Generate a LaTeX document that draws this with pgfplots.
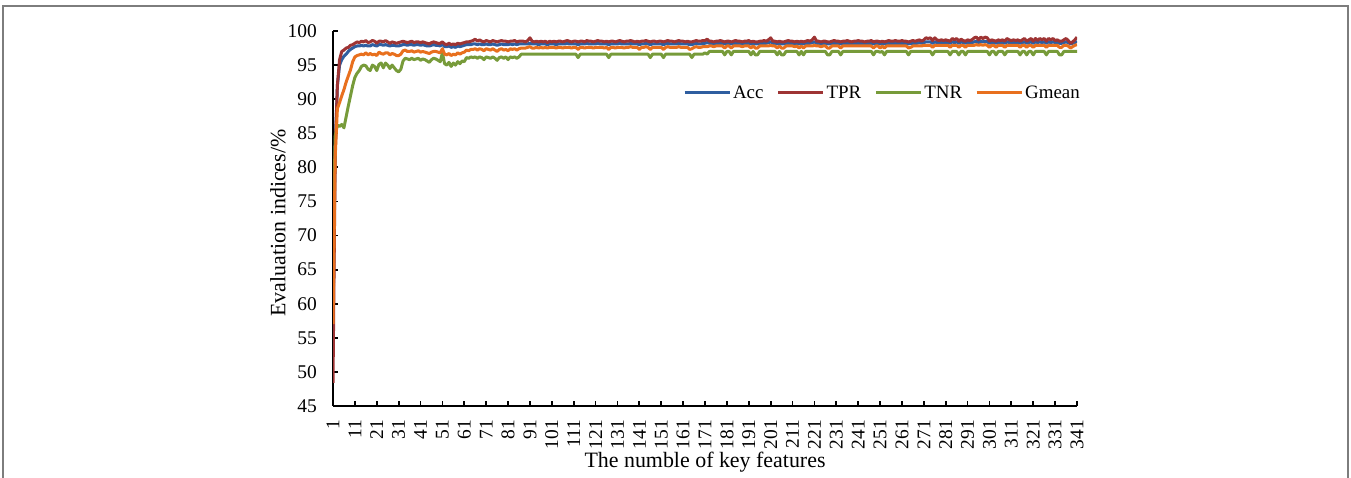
\documentclass[border=0pt]{standalone}
\usepackage{pgfplots}
\usepackage{pgfplotstable}
\pgfplotsset{compat=1.18}
\usepackage{fontspec}
\setmainfont{Liberation Serif}
\definecolor{cAcc}{RGB}{47,94,160}
\definecolor{cTPR}{RGB}{158,52,52}
\definecolor{cTNR}{RGB}{119,155,58}
\definecolor{cGm}{RGB}{232,112,30}
\definecolor{frame}{RGB}{125,125,125}
\pgfplotstableread{
x acc tpr tnr gm
1 57.2 48.4 68.0 57.0
2 83.0 82.0 84.6 81.5
3 92.0 92.0 86.2 88.6
4 95.0 95.8 86.0 89.5
5 95.8 97.0 86.3 90.5
6 96.3 97.2 85.8 91.4
7 96.6 97.5 87.4 92.5
8 97.0 97.6 89.0 93.4
9 97.3 97.9 90.5 94.3
10 97.5 98.0 92.0 95.5
11 97.7 98.2 93.2 96.2
12 97.8 98.4 93.8 96.4
13 97.8 98.3 94.2 96.5
14 97.9 98.5 94.8 96.6
15 97.8 98.4 95.0 96.5
16 97.9 98.6 94.9 96.8
17 97.8 98.3 94.4 96.5
18 97.8 98.4 94.2 96.7
19 98.0 98.6 95.0 96.5
20 97.9 98.5 94.8 96.6
21 97.8 98.2 94.2 96.4
22 98.0 98.5 95.1 96.9
23 98.0 98.5 95.3 96.7
24 97.9 98.4 94.6 96.6
25 98.0 98.6 95.3 96.8
26 97.9 98.4 95.0 96.8
27 97.8 98.2 94.5 96.5
28 97.9 98.4 95.0 96.7
29 97.9 98.3 94.6 96.6
30 97.8 98.2 94.2 96.4
31 97.8 98.3 94.0 96.4
32 97.9 98.4 94.4 96.6
33 98.0 98.5 95.6 97.1
34 98.0 98.4 96.0 97.2
35 97.9 98.3 95.9 97.0
36 98.0 98.4 95.8 97.0
37 98.0 98.5 96.0 97.1
38 97.9 98.3 95.8 96.9
39 98.0 98.4 95.9 97.0
40 98.0 98.4 96.0 97.1
41 97.9 98.3 95.7 96.9
42 98.0 98.4 95.9 97.0
43 97.9 98.3 95.8 96.9
44 97.8 98.2 95.6 96.8
45 97.8 98.1 95.4 96.7
46 97.9 98.3 95.8 96.9
47 98.0 98.4 96.0 97.0
48 97.9 98.3 95.9 97.0
49 97.9 98.2 95.7 96.9
50 97.8 98.2 95.5 96.8
51 98.1 98.4 96.8 97.4
52 97.7 98.1 95.2 96.6
53 97.7 98.0 95.0 96.5
54 97.8 98.2 95.4 96.7
55 97.6 98.0 94.8 96.4
56 97.7 98.1 95.3 96.6
57 97.6 98.0 95.0 96.5
58 97.8 98.2 95.5 96.8
59 97.7 98.1 95.2 96.6
60 97.8 98.2 95.6 96.8
61 97.9 98.3 95.5 96.9
62 98.0 98.4 96.1 97.2
63 98.0 98.4 96.0 97.1
64 98.0 98.5 96.2 97.3
65 98.1 98.6 96.1 97.3
66 98.1 98.8 96.2 97.4
67 98.0 98.5 96.0 97.2
68 98.1 98.7 96.2 97.4
69 98.0 98.5 96.1 97.3
70 98.0 98.4 95.8 97.1
71 98.1 98.6 96.2 97.4
72 98.0 98.5 96.1 97.3
73 98.0 98.4 96.0 97.2
74 98.1 98.6 96.2 97.4
75 98.0 98.5 96.0 97.2
76 97.9 98.4 95.7 97.0
77 98.0 98.5 96.1 97.3
78 98.1 98.6 96.2 97.4
79 98.0 98.5 96.0 97.2
80 98.0 98.5 96.2 97.3
81 98.0 98.4 95.8 97.1
82 98.1 98.5 96.2 97.4
83 98.0 98.5 96.1 97.3
84 98.1 98.6 96.2 97.4
85 98.0 98.4 96.0 97.2
86 98.1 98.5 96.2 97.4
87 98.1 98.5 96.6 97.5
88 98.1 98.5 96.6 97.5
89 98.1 98.4 96.6 97.5
90 98.1 98.6 96.6 97.6
91 98.2 99.0 96.6 97.7
92 98.1 98.5 96.6 97.5
93 98.1 98.4 96.6 97.5
94 98.1 98.5 96.6 97.6
95 98.0 98.4 96.6 97.5
96 98.1 98.5 96.6 97.6
97 98.1 98.4 96.6 97.5
98 98.1 98.5 96.6 97.6
99 98.0 98.3 96.6 97.5
100 98.1 98.5 96.6 97.6
101 98.1 98.4 96.6 97.6
102 98.1 98.5 96.6 97.6
103 98.0 98.4 96.6 97.5
104 98.1 98.5 96.6 97.6
105 98.1 98.5 96.6 97.6
106 98.1 98.4 96.6 97.5
107 98.1 98.5 96.6 97.6
108 98.2 98.6 96.6 97.6
109 98.1 98.5 96.6 97.6
110 98.1 98.4 96.6 97.5
111 98.1 98.5 96.6 97.6
112 98.1 98.5 96.6 97.6
113 98.0 98.4 96.1 97.3
114 98.1 98.5 96.6 97.6
115 98.1 98.5 96.6 97.6
116 98.1 98.4 96.6 97.5
117 98.2 98.6 96.6 97.6
118 98.1 98.5 96.6 97.6
119 98.1 98.5 96.6 97.6
120 98.1 98.4 96.6 97.5
121 98.1 98.5 96.6 97.6
122 98.2 98.6 96.6 97.6
123 98.1 98.5 96.6 97.6
124 98.1 98.5 96.6 97.6
125 98.1 98.4 96.6 97.5
126 98.1 98.5 96.6 97.6
127 98.0 98.4 96.1 97.3
128 98.1 98.5 96.6 97.6
129 98.1 98.5 96.6 97.6
130 98.1 98.4 96.6 97.5
131 98.1 98.5 96.6 97.6
132 98.2 98.6 96.6 97.6
133 98.1 98.5 96.6 97.6
134 98.1 98.4 96.6 97.5
135 98.1 98.5 96.6 97.6
136 98.1 98.5 96.6 97.6
137 98.2 98.6 96.6 97.7
138 98.1 98.5 96.6 97.6
139 98.1 98.4 96.6 97.6
140 98.1 98.5 96.6 97.6
141 98.0 98.4 96.6 97.3
142 98.1 98.5 96.6 97.6
143 98.1 98.5 96.6 97.6
144 98.2 98.6 96.6 97.7
145 98.1 98.5 96.6 97.6
146 98.0 98.4 96.1 97.3
147 98.1 98.5 96.6 97.6
148 98.1 98.5 96.6 97.6
149 98.1 98.4 96.6 97.6
150 98.1 98.5 96.6 97.6
151 98.1 98.5 96.6 97.6
152 98.0 98.4 96.1 97.3
153 98.1 98.5 96.6 97.6
154 98.2 98.6 96.6 97.7
155 98.1 98.5 96.6 97.6
156 98.1 98.5 96.6 97.6
157 98.1 98.4 96.6 97.6
158 98.1 98.5 96.6 97.6
159 98.2 98.6 96.6 97.7
160 98.1 98.5 96.6 97.6
161 98.1 98.5 96.6 97.6
162 98.1 98.4 96.6 97.6
163 98.1 98.5 96.6 97.6
164 98.0 98.4 96.6 97.3
165 98.0 98.4 96.1 97.4
166 98.1 98.5 96.6 97.6
167 98.2 98.6 96.6 97.7
168 98.1 98.5 96.6 97.6
169 98.1 98.5 96.6 97.6
170 98.2 98.6 96.6 97.7
171 98.2 98.6 96.8 97.7
172 98.3 98.8 96.6 97.7
173 98.2 98.5 97.0 97.8
174 98.2 98.5 97.0 97.8
175 98.2 98.4 97.0 97.7
176 98.2 98.5 97.0 97.8
177 98.2 98.5 97.0 97.8
178 98.2 98.6 97.0 97.8
179 98.2 98.5 97.0 97.8
180 98.1 98.4 96.5 97.5
181 98.2 98.5 97.0 97.8
182 98.2 98.5 97.0 97.8
183 98.1 98.4 96.5 97.5
184 98.2 98.5 97.0 97.8
185 98.2 98.6 97.0 97.8
186 98.2 98.5 97.0 97.8
187 98.2 98.5 97.0 97.8
188 98.2 98.4 97.0 97.7
189 98.2 98.5 97.0 97.8
190 98.2 98.5 97.0 97.8
191 98.2 98.6 97.0 97.8
192 98.1 98.4 96.5 97.5
193 98.2 98.5 97.0 97.8
194 98.1 98.4 96.5 97.5
195 98.1 98.4 96.5 97.5
196 98.2 98.5 97.0 97.8
197 98.2 98.5 97.0 97.8
198 98.2 98.6 97.0 97.8
199 98.2 98.5 97.0 97.8
200 98.3 98.7 97.0 97.8
201 98.4 99.0 97.0 97.9
202 98.2 98.5 97.0 97.8
203 98.2 98.5 97.0 97.8
204 98.1 98.4 96.5 97.5
205 98.2 98.5 97.0 97.8
206 98.1 98.4 96.5 97.5
207 98.1 98.4 96.5 97.5
208 98.2 98.5 97.0 97.8
209 98.2 98.6 97.0 97.8
210 98.2 98.5 97.0 97.8
211 98.2 98.5 97.0 97.8
212 98.2 98.4 97.0 97.7
213 98.2 98.5 97.0 97.8
214 98.1 98.4 96.5 97.5
215 98.2 98.5 97.0 97.8
216 98.1 98.4 96.5 97.5
217 98.2 98.5 97.0 97.8
218 98.2 98.6 97.0 97.8
219 98.2 98.5 97.0 97.8
220 98.3 98.7 97.0 97.8
221 98.4 99.1 97.0 97.9
222 98.2 98.5 97.0 97.8
223 98.2 98.5 97.0 97.8
224 98.2 98.4 97.0 97.7
225 98.2 98.5 97.0 97.8
226 98.2 98.5 97.0 97.8
227 98.1 98.4 96.5 97.5
228 98.1 98.4 96.5 97.5
229 98.2 98.5 97.0 97.8
230 98.2 98.6 97.0 97.8
231 98.2 98.5 97.0 97.8
232 98.2 98.5 97.0 97.8
233 98.1 98.4 96.5 97.5
234 98.2 98.5 97.0 97.8
235 98.2 98.5 97.0 97.8
236 98.2 98.6 97.0 97.8
237 98.2 98.5 97.0 97.8
238 98.2 98.4 97.0 97.8
239 98.2 98.5 97.0 97.8
240 98.2 98.5 97.0 97.8
241 98.2 98.6 97.0 97.8
242 98.2 98.5 97.0 97.8
243 98.2 98.5 97.0 97.8
244 98.2 98.4 97.0 97.8
245 98.2 98.5 97.0 97.8
246 98.2 98.5 97.0 97.8
247 98.2 98.6 97.0 97.8
248 98.1 98.4 96.5 97.5
249 98.2 98.5 97.0 97.8
250 98.2 98.5 97.0 97.8
251 98.1 98.4 96.9 97.5
252 98.2 98.5 97.0 97.8
253 98.1 98.4 96.5 97.5
254 98.2 98.5 97.0 97.8
255 98.2 98.6 97.0 97.8
256 98.2 98.5 97.0 97.8
257 98.2 98.5 97.0 97.8
258 98.2 98.6 97.0 97.8
259 98.2 98.5 97.0 97.8
260 98.2 98.5 97.0 97.8
261 98.2 98.6 97.0 97.8
262 98.2 98.5 97.0 97.8
263 98.2 98.5 97.0 97.8
264 98.1 98.4 96.5 97.5
265 98.2 98.5 97.0 97.6
266 98.2 98.6 97.0 97.8
267 98.2 98.5 97.0 97.8
268 98.2 98.6 97.0 97.8
269 98.3 98.7 97.0 97.8
270 98.2 98.5 97.0 97.8
271 98.3 98.7 97.0 97.9
272 98.4 99.0 97.0 97.9
273 98.4 98.9 97.0 97.9
274 98.4 99.0 97.0 97.9
275 98.2 98.6 96.5 97.6
276 98.4 99.0 97.0 97.9
277 98.3 98.7 97.0 97.9
278 98.3 98.6 97.0 97.9
279 98.3 98.7 97.0 97.9
280 98.3 98.6 97.0 97.9
281 98.3 98.7 97.0 97.9
282 98.3 98.6 97.0 97.9
283 98.2 98.5 96.5 97.6
284 98.4 98.9 97.0 97.9
285 98.3 98.7 97.0 97.9
286 98.4 98.9 97.0 97.9
287 98.2 98.5 96.5 97.6
288 98.4 98.8 97.0 97.9
289 98.3 98.6 97.0 97.9
290 98.2 98.5 96.5 97.6
291 98.3 98.7 97.0 97.9
292 98.3 98.6 97.0 97.9
293 98.3 98.7 97.0 97.9
294 98.4 99.0 97.0 97.9
295 98.5 99.1 97.0 98.0
296 98.3 98.7 97.0 97.9
297 98.5 99.1 97.0 98.0
298 98.4 98.9 97.0 97.9
299 98.5 99.1 97.0 98.0
300 98.4 99.0 97.0 97.9
301 98.2 98.5 96.5 97.6
302 98.3 98.7 97.0 97.9
303 98.3 98.6 97.0 97.9
304 98.2 98.5 96.5 97.6
305 98.3 98.7 97.0 97.9
306 98.3 98.6 97.0 97.9
307 98.3 98.7 97.0 97.9
308 98.2 98.5 96.5 97.6
309 98.4 98.9 97.0 97.9
310 98.3 98.7 97.0 97.9
311 98.3 98.6 97.0 97.9
312 98.3 98.7 97.0 97.9
313 98.3 98.6 97.0 97.9
314 98.3 98.7 97.0 97.9
315 98.2 98.5 96.5 97.6
316 98.3 98.7 97.0 97.9
317 98.4 98.9 97.0 97.9
318 98.2 98.5 96.5 97.6
319 98.3 98.7 97.0 97.9
320 98.4 98.9 97.0 97.9
321 98.2 98.5 96.5 97.6
322 98.4 98.9 97.0 97.9
323 98.3 98.6 97.0 97.9
324 98.4 98.9 97.0 97.9
325 98.3 98.7 97.0 97.9
326 98.4 98.9 97.0 97.9
327 98.2 98.5 96.5 97.6
328 98.4 98.9 97.0 97.9
329 98.3 98.7 97.0 97.9
330 98.4 98.9 97.0 97.9
331 98.3 98.6 97.0 97.9
332 98.3 98.7 97.0 97.9
333 98.2 98.5 96.5 97.6
334 98.2 98.5 96.5 97.6
335 98.3 98.7 97.0 97.9
336 98.4 98.9 97.0 97.9
337 98.3 98.6 97.0 97.8
338 98.1 98.2 97.0 97.5
339 98.2 98.4 97.0 97.7
340 98.3 98.7 97.0 97.9
341 98.5 99.1 97.0 98.0
}\datatable
\begin{document}
\begin{tikzpicture}
\useasboundingbox (0,0) rectangle (1351bp,478bp);
\draw[frame, line width=1.4bp] (3bp,0) -- (3bp,472bp) -- (1348bp,472bp) -- (1348bp,0);
\begin{axis}[
  at={(333bp,72bp)}, anchor=south west,
  scale only axis, width=744bp, height=375bp,
  xmin=1, xmax=341, ymin=45, ymax=100,
  xtick={1,11,...,341}, ytick={45,50,...,100},
  axis lines*=left,
  axis line style={line width=1.8bp, black},
  every tick/.style={black, line width=1.8bp},
  tick align=inside, major tick length=5bp,
  /pgf/number format/assume math mode=true,
  /pgf/number format/.cd, 1000 sep={}, /pgfplots/.cd,
  tick label style={font=\fontsize{19.5}{19.5}\selectfont},
  xticklabel style={rotate=90, anchor=east, inner sep=0pt, xshift=-14bp},
  yticklabel style={anchor=east, inner sep=0pt, xshift=-16bp},
  xlabel={The numble of key features},
  ylabel={Evaluation indices/\%},
  label style={font=\fontsize{22}{22}\selectfont},
  xlabel style={at={(axis description cs:0.5,-0.151)}, anchor=center},
  ylabel style={at={(axis description cs:-0.074,0.488)}, anchor=center},
  legend columns=4,
  legend style={draw=none, fill=none, inner sep=0pt,
    at={(axis description cs:1.0067,0.835)}, anchor=east,
    font=\fontsize{19}{19}\selectfont,
    nodes={inner xsep=2bp, inner ysep=1bp},
    /tikz/every even column/.append style={column sep=11bp}},
  legend image code/.code={\draw[#1] (0bp,0bp) -- (45bp,0bp);},
  every axis plot/.append style={line width=3bp, line join=round},
]
\addplot[cAcc] table[x=x, y=acc] {\datatable};
\addlegendentry{Acc}
\addplot[cTPR] table[x=x, y=tpr] {\datatable};
\addlegendentry{TPR}
\addplot[cTNR] table[x=x, y=tnr] {\datatable};
\addlegendentry{TNR}
\addplot[cGm] table[x=x, y=gm] {\datatable};
\addlegendentry{Gmean}
\end{axis}
\end{tikzpicture}
\end{document}
